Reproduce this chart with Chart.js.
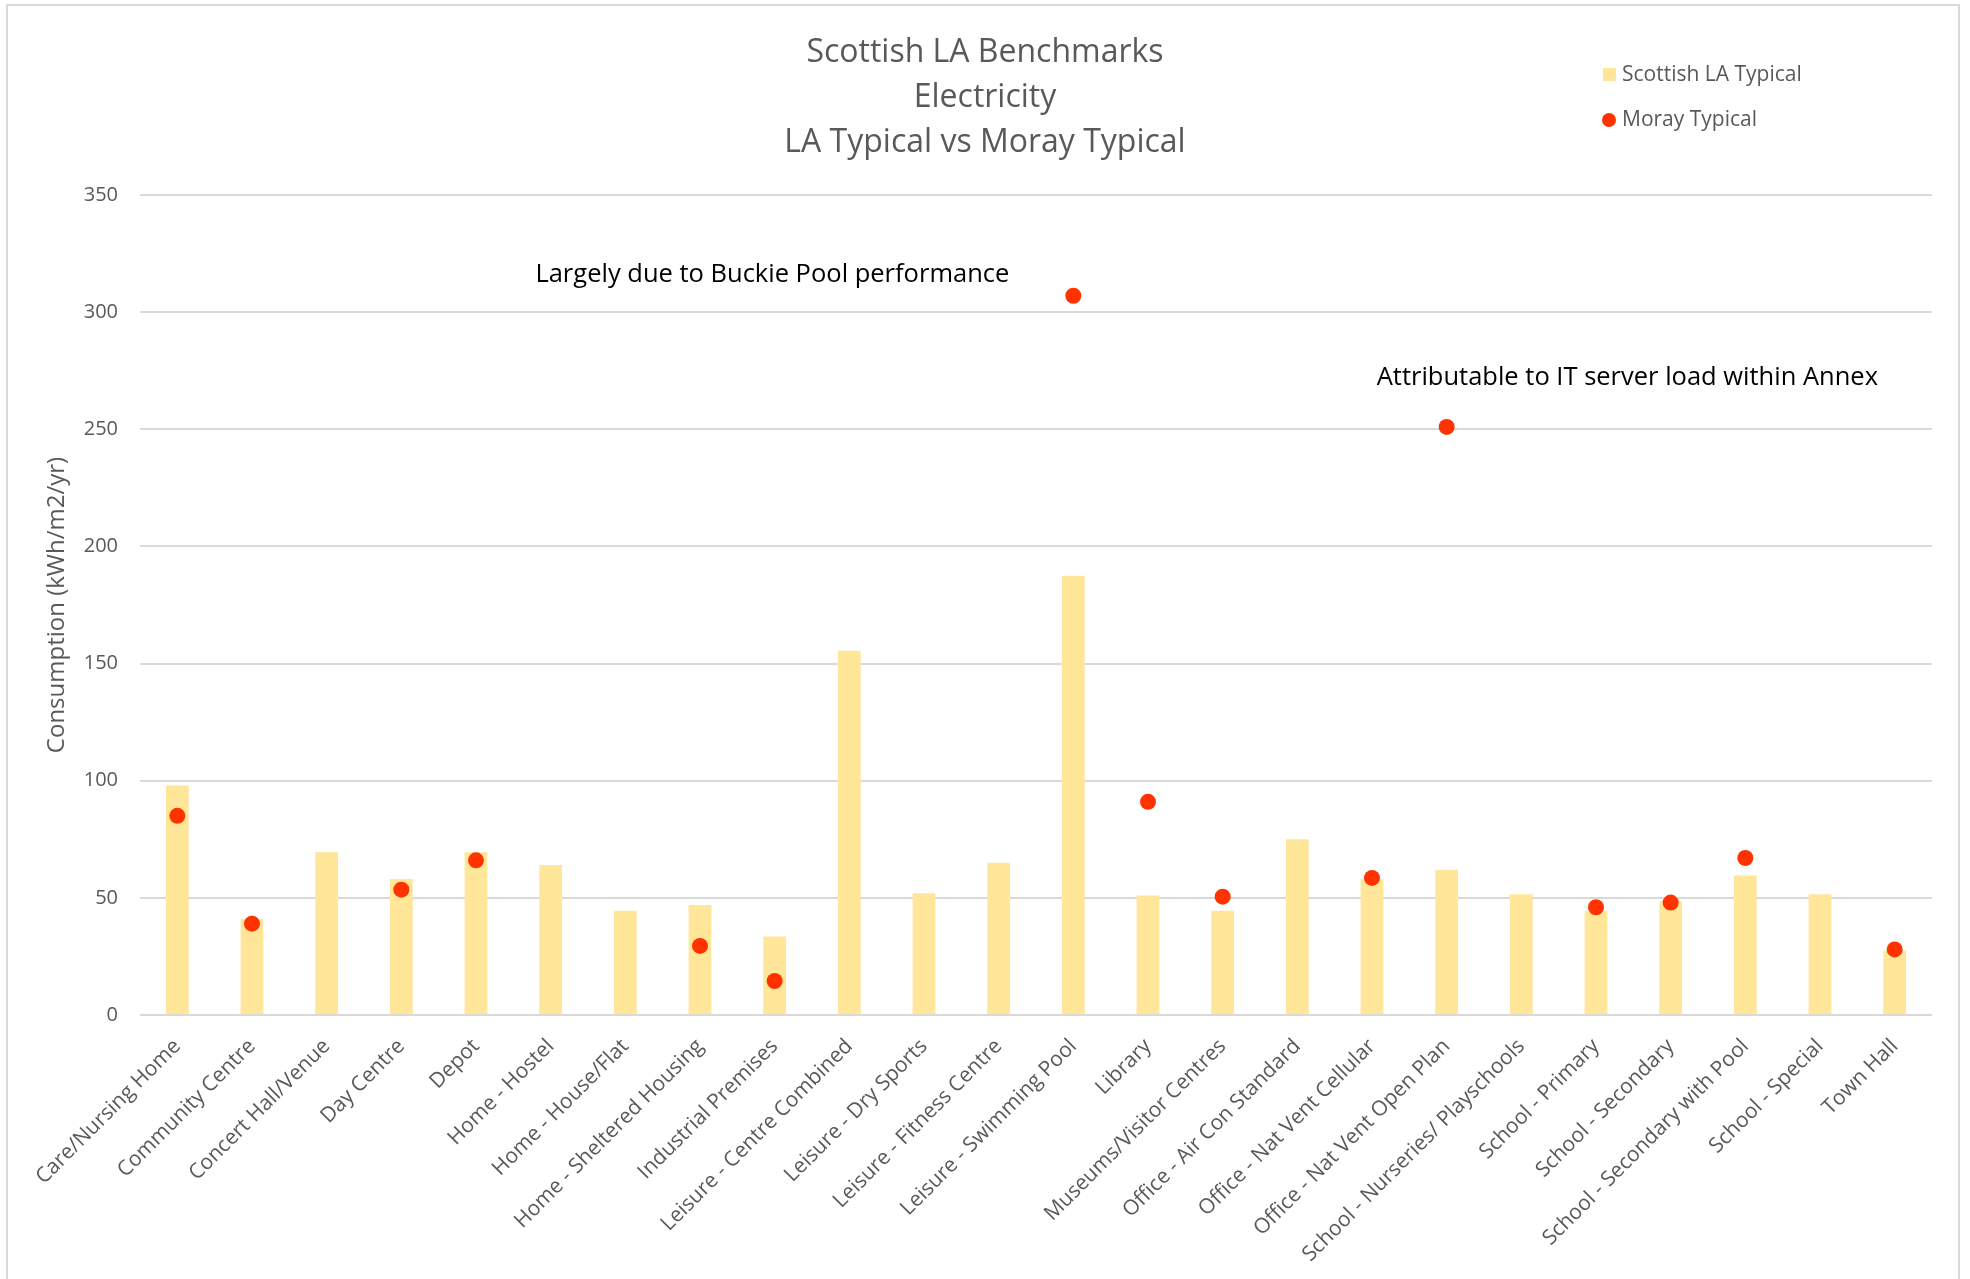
<!DOCTYPE html>
<html>
<head>
<meta charset="utf-8">
<title>Scottish LA Benchmarks - Electricity</title>
<script src="https://cdn.jsdelivr.net/npm/chart.js@4.4.0/dist/chart.umd.min.js"></script>
<style>
  html, body { margin: 0; padding: 0; background: #fff; }
  #wrap { position: relative; width: 1970px; height: 1279px; overflow: hidden; }
  #frame { position: absolute; left: 6px; top: 4px; width: 1954px; height: 1300px; border: 2px solid #d9d9d9; box-sizing: border-box; }
  canvas { position: absolute; left: 0; top: 0; }
</style>
</head>
<body>
<div id="wrap">
  <div id="frame"></div>
  <canvas id="benchChart" width="1970" height="1279"></canvas>
</div>
<script>
// Building categories
const categories = [
  "Care/Nursing Home", "Community Centre", "Concert Hall/Venue", "Day Centre", "Depot",
  "Home - Hostel", "Home - House/Flat", "Home - Sheltered Housing", "Industrial Premises",
  "Leisure - Centre Combined", "Leisure - Dry Sports", "Leisure - Fitness Centre",
  "Leisure - Swimming Pool", "Library", "Museums/Visitor Centres", "Office - Air Con Standard",
  "Office - Nat Vent Cellular", "Office - Nat Vent Open Plan", "School - Nurseries/ Playschools",
  "School - Primary", "School - Secondary", "School - Secondary with Pool", "School - Special",
  "Town Hall",
];

// Typical electricity consumption, kWh/m2/yr
const laTypical = [
  98, 41, 69.5, 58, 69.5, 64, 44.5, 47, 33.5, 155.5, 52, 65,
  187.5, 51, 44.5, 75, 58, 62, 51.5, 44.5, 48.5, 59.5, 51.5, 27.5,
];
const morayTypical = [
  85, 39, null, 53.5, 66, null, null, 29.5, 14.5, null, null, null,
  307, 91, 50.5, null, 58.5, 251, null, 46, 48, 67, null, 28,
];

// Y axis ticks
const yMin = 0;
const yMax = 350;
const yStep = 50;

const titleLines = ["Scottish LA Benchmarks", "Electricity", "LA Typical vs Moray Typical"];

const notes = [
  { text: "Largely due to Buckie Pool performance", index: 12, value: 316, dx: -64, align: "right" },
  { text: "Attributable to IT server load within Annex", index: 17, value: 272, dx: -70, align: "left" },
];

const FONT = "'Open Sans', 'Noto Sans', sans-serif";
const GREY = "#595959";

// Legend and callout texts drawn on top of the chart
const overlayText = {
  id: "overlayText",
  afterDraw(chart) {
    const ctx = chart.ctx;
    const x = chart.scales.x;
    const y = chart.scales.y;
    const [bars, dots] = chart.data.datasets;
    ctx.save();

    // legend
    ctx.font = "21px " + FONT;
    ctx.textBaseline = "middle";
    ctx.textAlign = "left";
    ctx.fillStyle = bars.backgroundColor;
    ctx.fillRect(1603, 68, 13, 13);
    ctx.fillStyle = GREY;
    ctx.fillText(bars.label, 1622, 75);
    ctx.fillStyle = dots.backgroundColor;
    ctx.beginPath();
    ctx.arc(1609, 120, 7, 0, Math.PI * 2);
    ctx.fill();
    ctx.fillStyle = GREY;
    ctx.fillText(dots.label, 1622, 120);

    // callouts
    ctx.font = "25.5px " + FONT;
    ctx.fillStyle = "#000";
    notes.forEach((n) => {
      ctx.textAlign = n.align;
      ctx.fillText(n.text, x.getPixelForValue(n.index) + n.dx, y.getPixelForValue(n.value));
    });
    ctx.restore();
  },
};

const benchChart = new Chart(document.getElementById("benchChart"), {
  data: {
    labels: categories,
    datasets: [
      {
        type: "bar",
        label: "Scottish LA Typical",
        data: laTypical,
        backgroundColor: "#ffe699",
        borderWidth: 0,
        categoryPercentage: 1,
        barPercentage: 0.305,
        order: 1,
      },
      {
        type: "line",
        label: "Moray Typical",
        data: morayTypical,
        showLine: false,
        pointStyle: "circle",
        pointRadius: 8,
        pointHoverRadius: 8,
        backgroundColor: "#ff3300",
        borderColor: "#ff3300",
        borderWidth: 0,
        order: 0,
      },
    ],
  },
  options: {
    responsive: false,
    animation: false,
    layout: {
      padding: { left: 38, right: 38, top: 0, bottom: 0 },
    },
    scales: {
      x: {
        grid: { display: false },
        border: { display: false },
        ticks: {
          autoSkip: false,
          minRotation: 45,
          maxRotation: 45,
          padding: 11,
          color: GREY,
          font: { family: FONT, size: 21 },
        },
        afterFit(scale) {
          scale.height = 264;
        },
      },
      y: {
        min: yMin,
        max: yMax,
        border: { display: false },
        grid: {
          color: "#d9d9d9",
          lineWidth: 2,
          drawTicks: false,
        },
        ticks: {
          stepSize: yStep,
          padding: 22,
          color: GREY,
          font: { family: FONT, size: 20 },
        },
        title: {
          display: true,
          text: "Consumption (kWh/m2/yr)",
          color: GREY,
          font: { family: FONT, size: 24 },
          padding: { top: 5, bottom: 0 },
        },
        afterFit(scale) {
          scale.width = 102;
        },
      },
    },
    plugins: {
      legend: { display: false },
      tooltip: { enabled: false },
      title: {
        display: true,
        text: titleLines,
        color: GREY,
        font: { family: FONT, size: 32, weight: "normal", lineHeight: 1.406 },
        padding: { top: 30, bottom: 30 },
      },
    },
  },
  plugins: [overlayText],
});
</script>
</body>
</html>
